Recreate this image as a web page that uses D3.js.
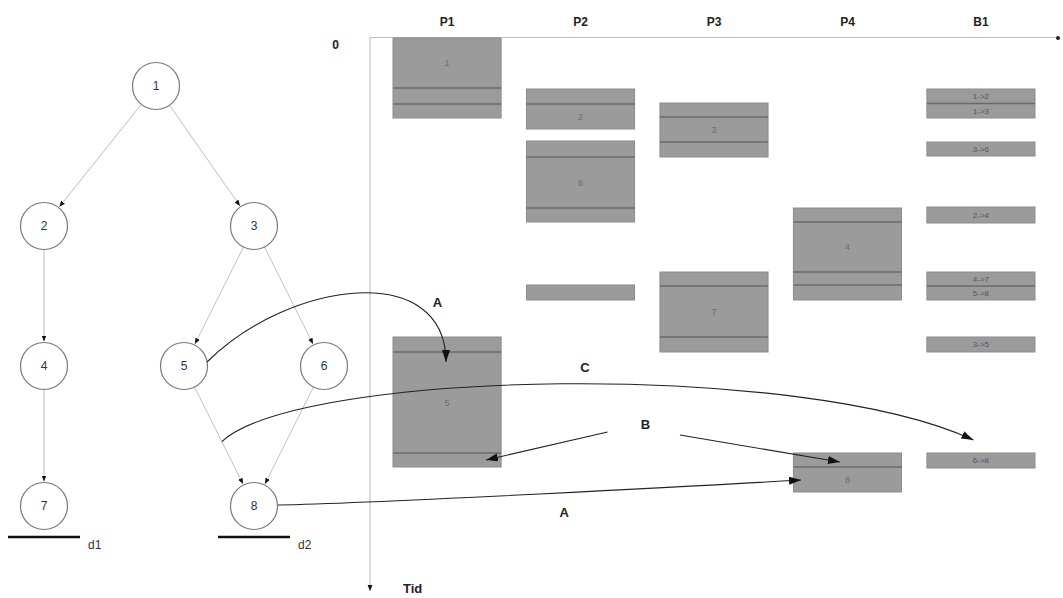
<!DOCTYPE html>
<html>
<head>
<meta charset="utf-8">
<script src="https://cdn.jsdelivr.net/npm/d3@7"></script>
<style>
  body { margin: 0; background: #fff; }
  text { font-family: "Liberation Sans", Arial, sans-serif; }
</style>
</head>
<body>
<svg id="chart" width="1063" height="598"></svg>
<script>
// columns of the schedule (processors + bus)
var columns = ["P1", "P2", "P3", "P4", "B1"];

// task blocks: start/end in time units, marks = inner division lines
var tasks = [
  {col: "P1", label: "1", start: 0,    end: 8.0,  marks: [5.0, 6.6]},
  {col: "P1", label: "5", start: 29.9, end: 42.9, marks: [31.4, 41.5]},
  {col: "P2", label: "2", start: 5.1,  end: 9.1,  marks: [6.6]},
  {col: "P2", label: "6", start: 10.3, end: 18.4, marks: [11.9, 17.0]},
  {col: "P2", label: "",  start: 24.7, end: 26.2, marks: []},
  {col: "P3", label: "3", start: 6.5,  end: 11.9, marks: [7.9, 10.4]},
  {col: "P3", label: "7", start: 23.4, end: 31.4, marks: [24.8, 29.9]},
  {col: "P4", label: "4", start: 17.0, end: 26.2, marks: [18.4, 23.4, 24.7]},
  {col: "P4", label: "8", start: 41.5, end: 45.4, marks: [42.9]}
];

// messages on the bus
var messages = [
  {start: 5.1,  end: 8.0,  labels: ["1->2", "1->3"]},
  {start: 10.4, end: 11.8, labels: ["3->6"]},
  {start: 16.9, end: 18.5, labels: ["2->4"]},
  {start: 23.4, end: 26.2, labels: ["4->7", "5->8"]},
  {start: 29.9, end: 31.4, labels: ["3->5"]},
  {start: 41.5, end: 43.0, labels: ["6->8"]}
];

// task graph
var nodes = [
  {id: 1, gx: 1.6, lv: 0}, {id: 2, gx: 0, lv: 1}, {id: 3, gx: 3, lv: 1},
  {id: 4, gx: 0, lv: 2},   {id: 5, gx: 2, lv: 2}, {id: 6, gx: 4, lv: 2},
  {id: 7, gx: 0, lv: 3},   {id: 8, gx: 3, lv: 3}
];
var edges = [[1, 2], [1, 3], [2, 4], [3, 5], [3, 6], [4, 7], [5, 8], [6, 8]];
var deadlines = [{label: "d1", node: 7}, {label: "d2", node: 8}];

// annotation arrows (graph -> schedule)
var arrows = [
  {from: {node: 5, dx: 23, dy: -4}, to: {col: "P1", fx: 0.49, t: 32.4}, c1: [83, -82], c2: [0, -102]},
  {from: {edge: [5, 8], f: 0.54},   to: {col: "B1", fx: 0.43, t: 40.2}, c1: [78, -72], c2: [-172, -80]},
  {from: {col: "P2", fx: 0.75, t: 39.4}, to: {col: "P1", fx: 0.86, t: 42.2}, c1: [0, 0], c2: [0, 0]},
  {from: {col: "P3", fx: 0.185, t: 39.7}, to: {col: "P4", fx: 0.43, t: 42.4}, c1: [0, 0], c2: [0, 0]},
  {from: {node: 8, dx: 24, dy: -1}, to: {col: "P4", fx: 0.07, t: 44.2}, c1: [100, -2], c2: [-100, 6]}
];
var arrowLabels = [
  {text: "A", col: "P1", fx: 0.41, t: 26.4},
  {text: "C", col: "P2", fx: 0.54, t: 32.9},
  {text: "B", col: "P2", fx: 1.10, t: 38.6},
  {text: "A", col: "P2", fx: 0.35, t: 47.4}
];

var svg = d3.select("#chart");
var x = d3.scaleBand().domain(columns).range([393, 1035]).paddingInner(0.19).paddingOuter(0);
var y = d3.scaleLinear().domain([0, 55]).range([38, 588]);
var gx = d3.scaleLinear().domain([0, 4]).range([44, 324]);
var gy = d3.scaleLinear().domain([0, 3]).range([86, 506]);
var R = 23.5;
var bw = x.bandwidth();

var defs = svg.append("defs");
defs.append("marker").attr("id", "tip")
  .attr("viewBox", "0 0 10 10").attr("refX", 10).attr("refY", 5)
  .attr("markerWidth", 6).attr("markerHeight", 6).attr("markerUnits", "userSpaceOnUse")
  .attr("orient", "auto")
  .append("path").attr("d", "M0,1 L10,5 L0,9 z").attr("fill", "#111");
defs.append("marker").attr("id", "head")
  .attr("viewBox", "0 0 12 8").attr("refX", 12).attr("refY", 4)
  .attr("markerWidth", 12).attr("markerHeight", 8).attr("markerUnits", "userSpaceOnUse")
  .attr("orient", "auto")
  .append("path").attr("d", "M0,0 L12,4 L0,8 z").attr("fill", "#111");

// ---- schedule axes
var xAxis = svg.append("g").attr("transform", "translate(0," + y(0) + ")")
  .call(d3.axisTop(x).tickSize(0).tickPadding(12));
xAxis.select(".domain").remove();
xAxis.selectAll("text").attr("font-size", 12).attr("font-weight", "bold").attr("fill", "#222");

var yAxis = svg.append("g").attr("transform", "translate(370,0)")
  .call(d3.axisLeft(y).tickValues([0]).tickSize(0).tickPadding(31));
yAxis.select(".domain").remove();
yAxis.selectAll("text").attr("font-size", 12).attr("font-weight", "bold").attr("fill", "#222").attr("dy", "0.85em");

svg.append("line").attr("x1", 370).attr("x2", 1056).attr("y1", y(0) - 0.5).attr("y2", y(0) - 0.5)
  .attr("stroke", "#bbb").attr("stroke-width", 1);
svg.append("circle").attr("cx", 1058).attr("cy", y(0)).attr("r", 2).attr("fill", "#222");
svg.append("line").attr("x1", 370).attr("x2", 370).attr("y1", y(0) - 1).attr("y2", 591)
  .attr("stroke", "#bbb").attr("stroke-width", 1).attr("marker-end", "url(#tip)");
svg.append("text").attr("x", 403).attr("y", 593).attr("font-size", 13).attr("font-weight", "bold")
  .attr("fill", "#222").text("Tid");

// ---- task blocks
var tg = svg.append("g").selectAll("g").data(tasks).enter().append("g");
tg.append("rect")
  .attr("x", function(d) { return x(d.col); })
  .attr("y", function(d) { return y(d.start); })
  .attr("width", bw)
  .attr("height", function(d) { return y(d.end) - y(d.start); })
  .attr("fill", "#9b9b9b").attr("stroke", "#8c8c8c").attr("stroke-width", 1);
tg.selectAll("line").data(function(d) { return d.marks.map(function(m) { return {col: d.col, t: m}; }); })
  .enter().append("line")
  .attr("x1", function(d) { return x(d.col); })
  .attr("x2", function(d) { return x(d.col) + bw; })
  .attr("y1", function(d) { return y(d.t); })
  .attr("y2", function(d) { return y(d.t); })
  .attr("stroke", "#6a6a6a").attr("stroke-width", 1.5);
tg.append("text")
  .attr("x", function(d) { return x(d.col) + bw / 2; })
  .attr("y", function(d) {
    var b = [d.start].concat(d.marks, [d.end]), best = 0;
    for (var i = 1; i < b.length - 1; i++) if (b[i + 1] - b[i] > b[best + 1] - b[best]) best = i;
    return y((b[best] + b[best + 1]) / 2);
  })
  .attr("dy", "0.35em").attr("text-anchor", "middle")
  .attr("font-size", 9).attr("fill", "#6e6e6e")
  .text(function(d) { return d.label; });

// ---- bus messages
var mg = svg.append("g").selectAll("g").data(messages).enter().append("g");
mg.append("rect")
  .attr("x", x("B1")).attr("width", bw)
  .attr("y", function(d) { return y(d.start); })
  .attr("height", function(d) { return y(d.end) - y(d.start); })
  .attr("fill", "#9b9b9b").attr("stroke", "#8c8c8c").attr("stroke-width", 1);
mg.filter(function(d) { return d.labels.length > 1; }).append("line")
  .attr("x1", x("B1")).attr("x2", x("B1") + bw)
  .attr("y1", function(d) { return y((d.start + d.end) / 2); })
  .attr("y2", function(d) { return y((d.start + d.end) / 2); })
  .attr("stroke", "#6a6a6a").attr("stroke-width", 1.5);
mg.selectAll("text").data(function(d) {
    var n = d.labels.length, h = (d.end - d.start) / n;
    return d.labels.map(function(l, i) { return {text: l, t: d.start + h * (i + 0.5)}; });
  })
  .enter().append("text")
  .attr("x", x("B1") + bw / 2)
  .attr("y", function(d) { return y(d.t); })
  .attr("dy", "0.35em").attr("text-anchor", "middle")
  .attr("font-size", 8).attr("fill", "#555")
  .text(function(d) { return d.text; });

// ---- task graph
var byId = {};
nodes.forEach(function(n) { byId[n.id] = {x: gx(n.gx), y: gy(n.lv)}; });

svg.append("g").selectAll("line").data(edges).enter().append("line")
  .each(function(e) {
    var a = byId[e[0]], b = byId[e[1]];
    var dx = b.x - a.x, dy = b.y - a.y, L = Math.sqrt(dx * dx + dy * dy);
    d3.select(this)
      .attr("x1", a.x + dx / L * R).attr("y1", a.y + dy / L * R)
      .attr("x2", b.x - dx / L * (R + 1)).attr("y2", b.y - dy / L * (R + 1));
  })
  .attr("stroke", "#bdbdbd").attr("stroke-width", 1).attr("marker-end", "url(#tip)");

var ng = svg.append("g").selectAll("g").data(nodes).enter().append("g")
  .attr("transform", function(d) { return "translate(" + gx(d.gx) + "," + gy(d.lv) + ")"; });
ng.append("circle").attr("r", R).attr("fill", "#fff").attr("stroke", "#777").attr("stroke-width", 1.2);
ng.append("text").attr("text-anchor", "middle").attr("dy", "0.35em")
  .attr("font-size", 12).attr("fill", "#333")
  .text(function(d) { return d.id; });

var dg = svg.append("g").selectAll("g").data(deadlines).enter().append("g");
dg.append("line")
  .attr("x1", function(d) { return byId[d.node].x - 36; })
  .attr("x2", function(d) { return byId[d.node].x + 36; })
  .attr("y1", function(d) { return byId[d.node].y + 31; })
  .attr("y2", function(d) { return byId[d.node].y + 31; })
  .attr("stroke", "#111").attr("stroke-width", 2.5);
dg.append("text")
  .attr("x", function(d) { return byId[d.node].x + 44; })
  .attr("y", function(d) { return byId[d.node].y + 43; })
  .attr("font-size", 12).attr("fill", "#333")
  .text(function(d) { return d.label; });

// ---- annotation arrows
function pt(p) {
  if (p.node) { var n = byId[p.node]; return [n.x + p.dx, n.y + p.dy]; }
  if (p.edge) {
    var a = byId[p.edge[0]], b = byId[p.edge[1]];
    return [a.x + (b.x - a.x) * p.f, a.y + (b.y - a.y) * p.f];
  }
  return [x(p.col) + p.fx * bw, y(p.t)];
}
svg.append("g").selectAll("path").data(arrows).enter().append("path")
  .attr("d", function(d) {
    var s = pt(d.from), e = pt(d.to);
    var p = d3.path();
    p.moveTo(s[0], s[1]);
    p.bezierCurveTo(s[0] + d.c1[0], s[1] + d.c1[1], e[0] + d.c2[0], e[1] + d.c2[1], e[0], e[1]);
    return p.toString();
  })
  .attr("fill", "none").attr("stroke", "#222").attr("stroke-width", 1.1)
  .attr("marker-end", "url(#head)");

svg.append("g").selectAll("text").data(arrowLabels).enter().append("text")
  .attr("x", function(d) { return x(d.col) + d.fx * bw; })
  .attr("y", function(d) { return y(d.t); })
  .attr("dy", "0.35em").attr("text-anchor", "middle")
  .attr("font-size", 13).attr("font-weight", "bold").attr("fill", "#222")
  .text(function(d) { return d.text; });
</script>
</body>
</html>
